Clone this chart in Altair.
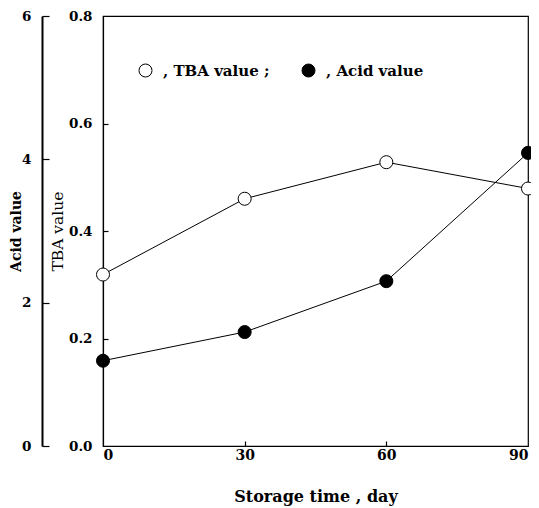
import altair as alt
import pandas as pd

# ---- data ----
days = [0, 30, 60, 90]
tba_values = [0.319, 0.460, 0.528, 0.479]
acid_values = [1.19, 1.59, 2.30, 4.09]
x_ticks = [0, 30, 60, 90]
x_inner_ticks = [30, 60]
tba_ticks = [0.0, 0.2, 0.4, 0.6, 0.8]
tba_inner_ticks = [0.2, 0.4, 0.6]
acid_ticks = [0, 2, 4, 6]
series = ["tba", "acid"]
legend_labels = [", TBA value ;", ", Acid value"]

df = pd.DataFrame({"day": days, "tba": tba_values, "acid": acid_values})

W, H = 425, 430
OUTER = 61
FONT = "DejaVu Serif"
TICKCOL = "black"

xs = alt.Scale(domain=[0, 90], nice=False, zero=False)
tba_s = alt.Scale(domain=[0, 0.8], nice=False, zero=False)
acid_s = alt.Scale(domain=[0, 6], nice=False, zero=False)


def X(axis=None):
    return alt.X("day:Q", scale=xs, axis=axis)


x_main_axis = alt.Axis(values=x_ticks, orient="bottom", ticks=False, labelPadding=2,
                       title="Storage time , day", titlePadding=26, format="d",
                       labelFontSize=14, titleFontSize=16, grid=False)
x_tick_axis = alt.Axis(orient="top", offset=-H, values=x_inner_ticks, tickSize=5,
                       tickColor=TICKCOL, labels=False, domain=False, title=None,
                       grid=False)

tba_main_axis = alt.Axis(values=tba_ticks, orient="left", format=".1f", ticks=False,
                         labelPadding=11, title="TBA value", titlePadding=3,
                         titleFontWeight="normal", labelFontSize=13.5,
                         titleFontSize=15.5, grid=False)
tba_tick_axis = alt.Axis(orient="right", offset=-W, values=tba_inner_ticks, tickSize=5,
                         tickColor=TICKCOL, labels=False, domain=False, title=None,
                         grid=False)

acid_main_axis = alt.Axis(values=acid_ticks, orient="left", offset=OUTER, format="d",
                          ticks=False, labelPadding=11, title="Acid value",
                          titlePadding=-2, domainWidth=2, labelFontSize=13.5,
                          titleFontSize=14, grid=False)
acid_tick_axis = alt.Axis(orient="right", offset=-(W + OUTER), values=acid_ticks,
                          tickSize=7, tickColor=TICKCOL, labels=False, domain=False,
                          title=None, grid=False)

label_expr = "datum.label == '%s' ? '%s' : '%s'" % (series[0], legend_labels[0], legend_labels[1])

legend = alt.Legend(orient="none", legendX=35, legendY=47, direction="horizontal",
                    title=None, labelExpr=label_expr, symbolType="circle",
                    symbolSize=169, symbolStrokeColor="black", symbolStrokeWidth=1,
                    symbolOpacity=1, labelFont=FONT, labelFontSize=15,
                    labelFontWeight="bold", labelColor="black", labelOffset=10,
                    columnPadding=30, padding=0)

fill_scale = alt.Scale(domain=series, range=["white", "black"])

base = alt.Chart(df)

acid_line = base.mark_line(color="black", strokeWidth=1).encode(
    x=X(None), y=alt.Y("acid:Q", scale=acid_s, axis=acid_main_axis))
tba_line = base.mark_line(color="black", strokeWidth=1).encode(
    x=X(x_main_axis), y=alt.Y("tba:Q", scale=tba_s, axis=tba_main_axis))

tba_pts = base.transform_calculate(series="'%s'" % series[0]).mark_point(
    shape="circle", filled=True, size=170, stroke="black", strokeWidth=1, opacity=1
).encode(
    x=X(None), y=alt.Y("tba:Q", scale=tba_s, axis=None),
    fill=alt.Fill("series:N", scale=fill_scale, legend=legend))
acid_pts = base.transform_calculate(series="'%s'" % series[1]).mark_point(
    shape="circle", filled=True, size=170, stroke="black", strokeWidth=1, opacity=1
).encode(
    x=X(None), y=alt.Y("acid:Q", scale=acid_s, axis=None),
    fill=alt.Fill("series:N", scale=fill_scale, legend=legend))

tba_ticks_layer = base.mark_point(opacity=0).encode(
    x=X(x_tick_axis), y=alt.Y("tba:Q", scale=tba_s, axis=tba_tick_axis))
acid_ticks_layer = base.mark_point(opacity=0).encode(
    x=X(None), y=alt.Y("acid:Q", scale=acid_s, axis=acid_tick_axis))

chart = alt.layer(
    acid_line, tba_line, tba_pts, acid_pts, tba_ticks_layer, acid_ticks_layer
).resolve_scale(
    x="independent", y="independent"
).properties(
    width=W, height=H,
    padding={"left": 95, "top": 8, "right": 3, "bottom": 60},
    autosize=alt.AutoSizeParams(type="none"),
    background="white",
).configure_view(
    stroke="black", strokeWidth=1.2
).configure_axis(
    domainColor="black", domainWidth=1.2, tickColor="black", tickWidth=1.2,
    labelColor="black", titleColor="black", labelFont=FONT, titleFont=FONT,
    labelFontWeight="bold", titleFontWeight="bold"
)

chart.save("out.html", embed_options={"renderer": "svg", "actions": False})
